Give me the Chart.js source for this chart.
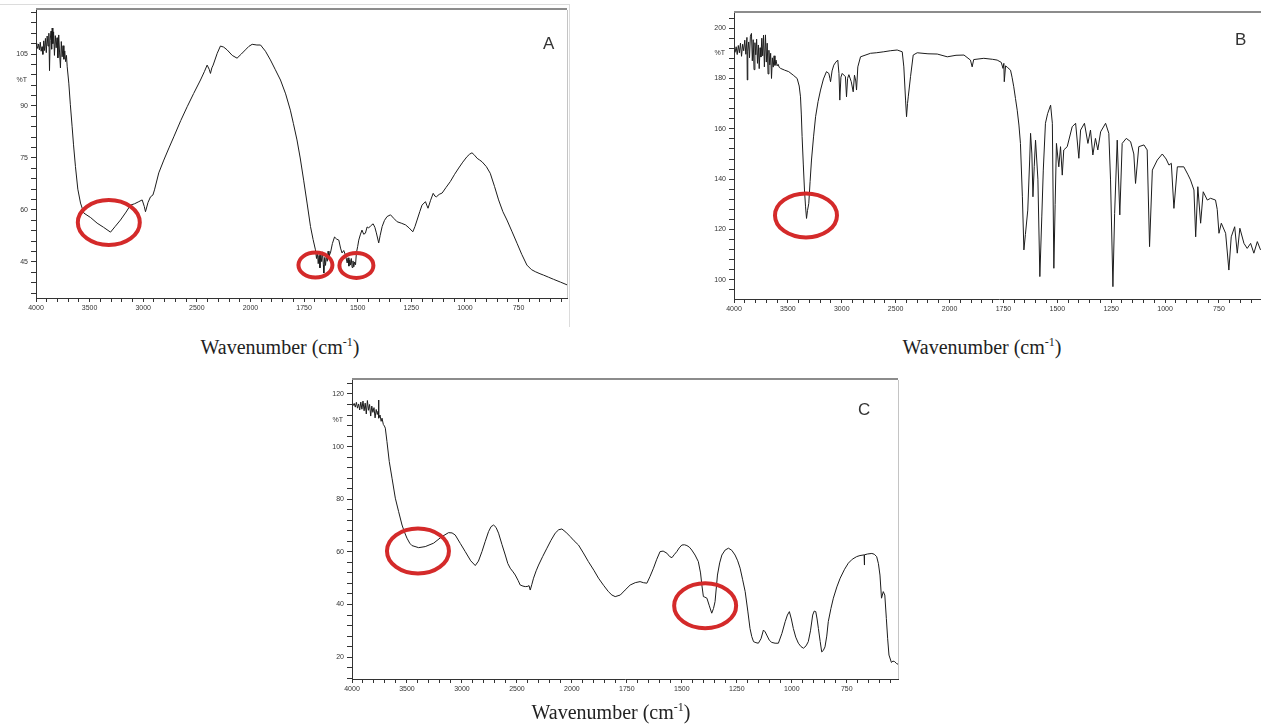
<!DOCTYPE html>
<html>
<head>
<meta charset="utf-8">
<script src="https://cdn.jsdelivr.net/npm/chart.js@4.4.1/dist/chart.umd.min.js"></script>
<style>
  body { margin: 0; width: 1261px; height: 726px; overflow: hidden; background: #fff; position: relative; }
  canvas { position: absolute; }
  .xlab { position: absolute; font-family: "Liberation Serif", serif; font-size: 20px; line-height: 22px; color: #222; transform: translateX(-50%); white-space: nowrap; }
  .xlab sup { font-size: 12px; line-height: 0; }
  .tag { position: absolute; font-family: "Liberation Sans", Arial, sans-serif; font-size: 17px; line-height: 17px; color: #333; }
  .edge { position: absolute; border-top: 1px solid #dcdcdc; border-right: 1px solid #dcdcdc; }
</style>
</head>
<body>
<div class="edge" style="left:0;top:4px;width:569px;height:322px"></div>
<canvas id="chartA" width="575" height="320" style="left:0;top:0"></canvas>
<canvas id="chartB" width="580" height="321" style="left:690px;top:0"></canvas>
<canvas id="chartC" width="600" height="335" style="left:310px;top:370px"></canvas>
<div class="tag" style="left:543px;top:35px">A</div>
<div class="tag" style="left:1235px;top:31px">B</div>
<div class="tag" style="left:858px;top:401px">C</div>
<div class="xlab" style="left:280px;top:336px">Wavenumber (cm<sup>-1</sup>)</div>
<div class="xlab" style="left:982px;top:336px">Wavenumber (cm<sup>-1</sup>)</div>
<div class="xlab" style="left:611px;top:701px">Wavenumber (cm<sup>-1</sup>)</div>
<script>
// x tick labels (cm-1); the axis scale halves at 2000
const xTickLabels = [4000, 3500, 3000, 2500, 2000, 1750, 1500, 1250, 1000, 750];

// Spectrum A
const aWave = [4000,3992,3984,3976,3968,3960,3952,3944,3936,3928,3920,3912,3904,3896,3888,3880,3874,3868,3860,3854,
  3849,3843,3836,3828,3820,3812,3804,3796,3788,3780,3772,3764,3756,3748,3740,3732,3724,3716,3709,3694,
  3680,3663,3650,3632,3610,3585,3554,3490,3430,3370,3305,3260,3212,3160,3119,3080,3041,3010,2990,2979,
  2955,2932,2910,2895,2855,2808,2760,2715,2650,2590,2530,2466,2430,2404,2385,2373,2360,2348,2310,2280,
  2250,2218,2170,2125,2085,2047,2015,1992,1970,1953,1930,1907,1885,1860,1836,1814,1800,1783,1768,1752,
  1736,1720,1708,1697,1692,1688,1684,1680,1676,1672,1668,1664,1660,1658,1654,1650,1646,1642,1638,1634,
  1630,1627,1618,1608,1598,1588,1580,1573,1565,1557,1549,1545,1541,1537,1534,1530,1526,1522,1518,1514,
  1510,1506,1500,1495,1488,1480,1472,1464,1456,1449,1440,1428,1420,1413,1402,1395,1386,1375,1363,1347,
  1332,1316,1297,1277,1260,1243,1233,1223,1210,1200,1184,1178,1172,1160,1148,1140,1133,1120,1106,1088,
  1068,1048,1029,1010,990,978,967,955,943,931,920,900,882,862,843,823,804,780,757,735,
  711,690,672,650,633,610,587,555,524];
const aT = [108.0,107.5,106.6,107.9,106.2,108.4,105.8,107.1,104.9,108.8,106.0,109.5,105.4,110.2,107.3,111.0,100.2,108.9,111.6,106.4,
  112.5,108.0,111.4,104.6,110.3,106.8,109.7,103.9,110.5,105.3,101.0,108.6,104.2,107.4,103.5,105.9,102.8,104.6,101.3,96.6,
  90.5,84.0,78.8,72.5,66.0,62.0,59.1,57.8,56.2,55.0,53.6,55.3,57.1,59.4,61.4,61.8,62.4,62.9,61.0,59.5,
  62.2,63.8,64.3,65.8,70.7,74.4,77.9,81.1,85.8,89.8,93.6,97.5,99.9,101.8,100.6,99.4,101.0,101.8,105.2,107.3,
  107.0,106.2,104.6,103.8,105.0,106.2,107.2,107.8,107.6,107.6,105.8,103.3,100.6,97.5,93.5,88.8,85.0,80.2,75.0,68.6,
  62.0,55.2,51.5,48.5,46.0,47.8,44.5,46.9,43.3,47.2,45.1,47.9,44.2,41.8,46.3,44.0,47.0,45.2,48.1,46.0,
  47.3,47.6,50.3,52.2,51.6,51.3,49.0,47.6,48.3,47.0,44.7,46.2,43.8,45.6,44.1,46.0,43.4,45.3,43.6,45.0,
  44.2,47.6,49.5,51.3,52.8,54.2,53.0,53.3,55.1,54.8,55.4,56.0,55.0,53.4,50.5,52.7,55.2,57.0,58.1,58.6,
  57.6,56.6,56.2,55.7,54.8,53.7,55.2,57.1,59.6,61.4,62.4,61.4,60.5,62.8,64.8,64.0,63.8,64.5,64.9,66.5,
  68.2,70.3,72.1,73.8,75.4,76.1,76.5,75.8,74.9,74.4,73.9,72.5,70.6,66.8,62.9,59.5,57.1,53.7,50.4,47.2,
  44.1,42.8,42.2,41.6,41.2,40.6,40.0,39.2,38.4];
const aYTicks = [45, 60, 75, 90, 105];

// Spectrum B
const bWave = [4000,3990,3980,3970,3960,3950,3940,3930,3920,3910,3900,3890,3880,3877,3872,3864,3856,3848,3838,3830,
  3822,3814,3806,3798,3790,3782,3774,3766,3758,3750,3742,3734,3726,3718,3708,3700,3692,3684,3676,3668,
  3660,3652,3644,3636,3628,3620,3610,3600,3590,3580,3568,3530,3492,3450,3414,3395,3383,3375,3368,3357,
  3346,3336,3327,3318,3306,3294,3281,3262,3243,3220,3197,3170,3142,3120,3110,3104,3090,3074,3055,3037,
  3026,3018,3008,2996,2966,2956,2946,2934,2912,2894,2882,2870,2863,2851,2826,2733,2680,2610,2550,2486,
  2439,2424,2408,2399,2390,2383,2362,2337,2300,2200,2114,2021,1970,1933,1903,1895,1888,1841,1800,1779,
  1760,1752,1748,1746,1740,1730,1717,1710,1702,1694,1686,1678,1671,1662,1655,1648,1637,1628,1624,1618,
  1613,1607,1601,1590,1581,1572,1565,1555,1545,1531,1523,1516,1510,1504,1493,1485,1477,1470,1454,1431,
  1415,1400,1392,1374,1358,1346,1335,1323,1312,1299,1276,1261,1253,1242,1234,1222,1210,1199,1180,1160,
  1145,1137,1122,1098,1083,1072,1059,1036,1013,995,982,971,959,943,913,895,882,866,858,848,
  835,823,804,789,766,758,750,739,719,704,693,677,665,653,634,619,603,588,572,557];
const bT = [191.3,190.4,192.6,189.5,193.1,190.2,194.0,188.8,193.6,191.0,195.2,189.6,196.3,179.4,190.8,194.5,188.2,196.8,197.9,187.0,
  195.4,183.5,194.2,189.4,195.6,186.0,193.3,183.9,192.2,188.5,196.0,189.0,197.2,184.6,197.3,186.5,194.0,181.8,191.2,185.4,
  190.0,180.0,188.2,184.5,189.0,185.2,187.3,185.0,185.6,184.4,184.0,183.3,182.7,181.3,180.0,177.0,172.7,165.5,156.9,146.0,
  135.7,129.0,124.4,127.5,130.4,139.0,147.6,156.8,164.8,170.8,175.4,179.8,182.7,182.0,180.0,178.7,183.0,185.3,186.5,187.3,
  182.0,171.4,180.5,182.0,180.7,172.7,180.0,181.5,178.7,174.7,181.3,179.0,175.4,184.6,188.6,190.0,190.2,190.6,191.0,191.3,
  190.6,184.6,171.4,164.8,170.0,172.7,180.7,189.3,190.2,189.8,189.7,188.6,189.2,189.3,187.3,184.6,187.5,188.0,187.6,187.3,
  186.4,184.0,186.0,178.7,185.0,184.3,183.3,180.5,176.7,172.0,167.4,161.5,154.2,133.0,111.9,118.0,127.7,148.0,158.2,150.0,
  133.0,145.0,155.5,140.0,101.3,125.0,143.6,162.2,166.0,169.4,162.2,104.6,130.0,154.2,144.9,152.9,141.6,151.6,152.9,160.8,
  162.2,148.3,159.5,162.2,154.2,159.5,149.6,156.2,151.6,158.8,162.2,158.2,139.7,97.3,126.4,155.5,125.8,154.2,156.2,154.9,
  150.0,138.3,152.9,153.6,151.6,113.2,143.6,147.6,150.0,148.0,145.6,146.3,128.4,144.9,144.9,142.0,139.7,135.7,117.1,137.0,
  122.5,135.0,131.7,132.4,131.7,128.0,118.5,122.5,118.5,103.9,117.1,121.1,110.6,120.5,114.5,112.5,114.5,110.6,115.2,111.9];
const bYTicks = [100, 120, 140, 160, 180, 200];

// Spectrum C
const cWave = [4000,3990,3980,3970,3960,3950,3940,3930,3920,3910,3900,3890,3880,3870,3860,3850,3840,3830,3820,3810,
  3800,3790,3780,3770,3762,3758,3756,3745,3735,3727,3715,3705,3697,3682,3661,3636,3606,3576,3545,3520,
  3500,3475,3455,3394,3334,3258,3182,3122,3090,3061,3015,2970,2920,2879,2850,2818,2788,2758,2735,2712,
  2690,2667,2636,2606,2583,2561,2535,2515,2490,2470,2445,2424,2400,2390,2379,2365,2349,2325,2303,2265,
  2227,2190,2152,2120,2091,2055,2015,1990,1970,1948,1925,1900,1879,1856,1834,1818,1803,1780,1758,1735,
  1712,1690,1675,1659,1645,1629,1614,1599,1585,1568,1555,1545,1535,1523,1512,1500,1488,1477,1466,1455,
  1440,1425,1415,1409,1402,1395,1386,1375,1364,1356,1349,1338,1328,1318,1303,1288,1273,1258,1246,1235,
  1224,1212,1200,1190,1182,1174,1163,1152,1140,1129,1121,1114,1102,1091,1076,1061,1045,1030,1020,1011,
  1002,993,982,970,958,947,935,925,915,905,898,891,885,879,871,864,857,849,841,834,
  822,811,795,780,760,743,725,705,690,675,671,670,669,655,636,625,614,606,599,592,
  584,577,570,564,558,547,540,532,524,517];
const cT = [116.1,115.6,116.4,115.0,116.8,114.6,116.2,113.9,116.9,114.2,117.3,113.6,116.5,112.4,117.5,113.8,116.0,111.6,115.4,113.0,
  114.8,110.9,114.1,112.2,113.5,117.7,110.8,112.0,109.6,110.8,108.4,107.8,107.0,101.9,94.3,88.0,80.4,75.3,70.2,67.2,
  65.2,63.3,62.4,61.6,62.0,63.3,65.8,67.3,67.2,66.4,63.2,60.1,56.6,54.8,56.5,60.1,64.0,67.7,69.6,70.2,
  69.3,67.1,62.8,58.8,55.6,53.8,52.4,51.2,49.2,47.4,47.0,46.8,46.9,47.2,45.5,47.5,50.0,52.8,55.0,58.3,
  61.4,64.4,67.1,68.4,68.7,67.5,65.8,64.2,62.6,59.6,56.3,53.0,50.0,47.3,44.9,43.6,43.0,43.6,45.5,47.4,
  48.3,48.7,48.3,48.1,50.6,53.8,57.2,60.1,60.3,59.5,58.2,57.8,58.9,60.1,61.5,62.6,62.7,62.4,61.8,60.7,
  58.8,56.3,52.0,47.4,43.0,42.8,42.4,39.5,36.7,38.5,41.1,51.2,55.8,58.8,60.7,61.4,60.6,58.8,56.6,53.8,
  49.6,44.9,37.5,30.9,27.8,25.9,25.5,25.3,27.0,30.3,29.6,28.4,26.4,25.6,25.3,25.3,29.0,33.5,36.0,37.3,
  34.5,30.9,27.6,25.3,24.0,23.4,24.3,25.9,30.0,36.0,37.5,37.3,34.5,30.9,26.0,22.0,22.5,23.9,28.0,33.5,
  38.5,42.4,46.7,50.0,53.4,55.7,57.2,58.2,58.6,58.8,58.9,55.0,58.9,59.2,59.4,59.1,58.2,55.5,51.2,42.4,
  44.9,43.6,34.7,27.0,20.8,18.0,18.5,18.3,17.6,17.3];
const cYTicks = [20, 40, 60, 80, 100, 120];

// axis position: 4000-2000 at half scale, below 2000 at full scale
function toU(w) { return w >= 2000 ? (4000 - w) / 2 : 1000 + (2000 - w); }
function toW(u) { return u <= 1000 ? 4000 - 2 * u : 3000 - u; }

const tickFont = { size: 7, family: 'Liberation Sans' };

const frame = {
  id: 'frame',
  afterDraw(chart, args, opts) {
    const { ctx, chartArea: a } = chart;
    ctx.save();
    ctx.strokeStyle = '#8c8c8c';
    ctx.lineWidth = 2;
    ctx.beginPath();
    ctx.moveTo(a.left, a.top - 1);
    ctx.lineTo(a.right, a.top - 1);
    ctx.stroke();
    ctx.strokeStyle = '#c4c4c4';
    ctx.lineWidth = 1;
    ctx.beginPath();
    ctx.moveTo(a.right + 0.5, a.top);
    ctx.lineTo(a.right + 0.5, a.bottom);
    ctx.stroke();
    ctx.restore();
  }
};

const rings = {
  id: 'rings',
  afterDatasetsDraw(chart, args, opts) {
    const { ctx, scales } = chart;
    ctx.save();
    ctx.strokeStyle = '#d42a2a';
    ctx.lineWidth = 4;
    (opts.items || []).forEach(r => {
      ctx.beginPath();
      ctx.ellipse(scales.x.getPixelForValue(toU(r.w)), scales.y.getPixelForValue(r.t), r.rx, r.ry, 0, 0, Math.PI * 2);
      ctx.stroke();
    });
    ctx.restore();
  }
};

const tLabel = {
  id: 'tLabel',
  afterDraw(chart, args, opts) {
    const { ctx, chartArea, scales } = chart;
    ctx.save();
    ctx.font = '7px Liberation Sans';
    ctx.fillStyle = '#333';
    ctx.textAlign = 'right';
    ctx.textBaseline = 'middle';
    ctx.fillText('%T', chartArea.left - 9, scales.y.getPixelForValue(opts.at));
    ctx.restore();
  }
};

function makeChart(id, c) {
  const majorU = xTickLabels.map(toU);
  const pts = c.wave.map((w, i) => ({ x: toU(w), y: c.trans[i] }));
  return new Chart(document.getElementById(id), {
    type: 'line',
    data: { datasets: [{ data: pts, borderColor: '#1c1c1c', borderWidth: 1, pointRadius: 0, tension: 0, fill: false }] },
    options: {
      responsive: false,
      animation: false,
      events: [],
      layout: { padding: { top: c.padTop, right: c.padRight, left: 0, bottom: 0 } },
      plugins: {
        legend: { display: false },
        tooltip: { enabled: false },
        rings: { items: c.rings },
        tLabel: { at: c.tAt }
      },
      scales: {
        x: {
          type: 'linear', min: 0, max: toU(c.wEnd),
          afterBuildTicks: s => {
            const t = [];
            for (let u = 0; u <= s.max + 0.01; u += 50) t.push({ value: u });
            s.ticks = t;
          },
          afterFit: s => { s.height = c.xH; },
          ticks: {
            autoSkip: false, maxRotation: 0, padding: 2, font: tickFont, color: '#333',
            callback: v => majorU.some(m => Math.abs(m - v) < 0.01) ? String(toW(v)) : ''
          },
          grid: { drawOnChartArea: false, tickLength: 4, tickColor: '#333' },
          border: { color: '#333', width: 1 }
        },
        y: {
          min: c.yMin, max: c.yMax,
          afterBuildTicks: s => {
            const t = [];
            for (let v = c.yStart; v <= c.yMax; v += c.yStep) t.push({ value: v });
            s.ticks = t;
          },
          afterFit: s => { s.width = c.yW; },
          ticks: {
            autoSkip: false, padding: 3, font: tickFont, color: '#333',
            callback: v => c.yTicks.includes(v) ? String(v) : ''
          },
          grid: { drawOnChartArea: false, tickLength: 5, tickColor: '#333' },
          border: { color: '#333', width: 1 }
        }
      }
    },
    plugins: [frame, rings, tLabel]
  });
}

makeChart('chartA', {
  wave: aWave, trans: aT, yTicks: aYTicks, wEnd: 524,
  yMin: 34.6, yMax: 117.7, yStart: 36, yStep: 3, tAt: 97.5,
  yW: 36, xH: 22, padTop: 10, padRight: 8,
  rings: [{ w: 3321, t: 56.4, rx: 31, ry: 22.5 }, { w: 1697, t: 44.1, rx: 17, ry: 12.5 }, { w: 1506, t: 44.0, rx: 17, ry: 12.5 }]
});

makeChart('chartB', {
  wave: bWave, trans: bT, yTicks: bYTicks, wEnd: 541,
  yMin: 92.4, yMax: 206, yStart: 96, yStep: 4, tAt: 190.2,
  yW: 44, xH: 22, padTop: 13, padRight: 6,
  rings: [{ w: 3332, t: 125.6, rx: 31, ry: 22 }]
});

makeChart('chartC', {
  wave: cWave, trans: cT, yTicks: cYTicks, wEnd: 517,
  yMin: 11.7, yMax: 125.3, yStart: 12, yStep: 4, tAt: 110,
  yW: 42, xH: 26, padTop: 10, padRight: 12,
  rings: [{ w: 3400, t: 60.3, rx: 31, ry: 22.5 }, { w: 1394, t: 39.5, rx: 31, ry: 22.5 }]
});
</script>
</body>
</html>
